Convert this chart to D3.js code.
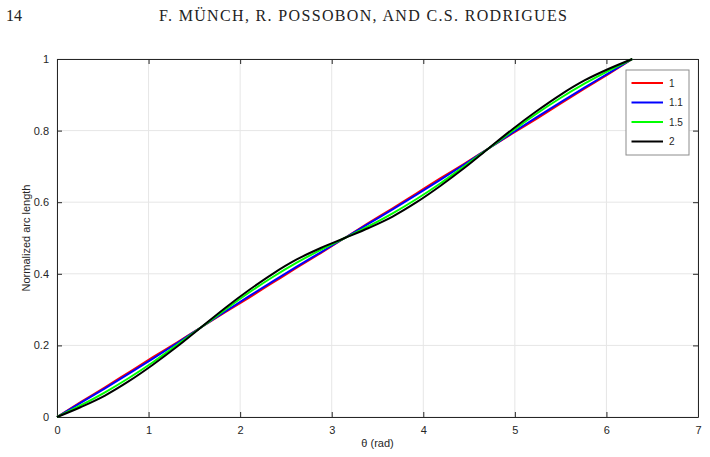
<!DOCTYPE html>
<html>
<head>
<meta charset="utf-8">
<script src="https://cdn.jsdelivr.net/npm/d3@7/dist/d3.min.js"></script>
<style>
  body { margin: 0; background: #fff; }
  svg { display: block; }
</style>
</head>
<body>
<div id="chart"></div>
<script>
// theta sample points (rad)
const theta = [0, 0.262, 0.524, 0.785, 1.047, 1.309, 1.571, 1.833, 2.094, 2.356, 2.618, 2.880,
    3.142, 3.403, 3.665, 3.927, 4.189, 4.451, 4.712, 4.974, 5.236, 5.498, 5.760, 6.021, 6.283];

// normalized arc length per ratio
const arc1 = [0, .042, .083, .125, .167, .208, .250, .292, .333, .375, .417, .458,
    .500, .542, .583, .625, .667, .708, .750, .792, .833, .875, .917, .958, 1];
const arc11 = [0, .040, .080, .121, .163, .206, .250, .294, .337, .379, .420, .460,
    .500, .540, .580, .621, .663, .706, .750, .794, .837, .879, .920, .960, 1];
const arc15 = [0, .033, .069, .109, .153, .201, .250, .299, .347, .391, .431, .467,
    .500, .533, .569, .609, .653, .701, .750, .799, .847, .891, .931, .967, 1];
const arc2 = [0, .028, .060, .100, .146, .196, .250, .304, .354, .400, .440, .472,
    .500, .528, .560, .600, .646, .696, .750, .804, .854, .900, .940, .972, 1];

const seriesNames = ["1", "1.1", "1.5", "2"];
const seriesColors = ["#ff0000", "#0000ff", "#00ff00", "#000000"];
const seriesValues = [arc1, arc11, arc15, arc2];

const xTicks = [0, 1, 2, 3, 4, 5, 6, 7];
const yTicks = [0, 0.2, 0.4, 0.6, 0.8, 1];

const W = 710, H = 457;
const margin = { top: 59, right: 12, bottom: 40, left: 57 };
const width = W - margin.left - margin.right;
const height = H - margin.top - margin.bottom;

const svg = d3.select("#chart").append("svg")
    .attr("width", W)
    .attr("height", H);

// page header
const serif = "'Liberation Serif', 'DejaVu Serif', serif";
svg.append("text")
    .attr("x", 6)
    .attr("y", 21)
    .style("font-family", serif)
    .style("font-size", "16px")
    .style("fill", "#222")
    .text("14");

svg.append("text")
    .attr("x", 159)
    .attr("y", 21)
    .attr("textLength", 408)
    .attr("lengthAdjust", "spacing")
    .style("font-family", serif)
    .style("font-size", "16px")
    .style("fill", "#222")
    .text("F. MÜNCH, R. POSSOBON, AND C.S. RODRIGUES");

const g = svg.append("g")
    .attr("transform", `translate(${margin.left}, ${margin.top})`);

const xScale = d3.scaleLinear().domain([0, 7]).range([0, width]);
const yScale = d3.scaleLinear().domain([0, 1]).range([height, 0]);

// grid
g.selectAll(".vgrid")
    .data(xTicks)
    .enter()
    .append("line")
    .attr("x1", d => xScale(d))
    .attr("x2", d => xScale(d))
    .attr("y1", 0)
    .attr("y2", height)
    .style("stroke", "#e6e6e6")
    .style("stroke-width", 1);

g.selectAll(".hgrid")
    .data(yTicks)
    .enter()
    .append("line")
    .attr("x1", 0)
    .attr("x2", width)
    .attr("y1", d => yScale(d))
    .attr("y2", d => yScale(d))
    .style("stroke", "#e6e6e6")
    .style("stroke-width", 1);

// axes (ticks pointing inward, box on all sides)
const axisFont = "'Liberation Sans', Arial, sans-serif";
const fmt = d3.format("~g");

const xAxis = g.append("g")
    .attr("transform", `translate(0, ${height})`)
    .call(d3.axisBottom(xScale).tickValues(xTicks).tickSizeInner(-5).tickSizeOuter(0).tickPadding(9)
        .tickFormat(fmt));
const xTop = g.append("g")
    .call(d3.axisTop(xScale).tickValues(xTicks).tickSizeInner(-5).tickSizeOuter(0).tickFormat(""));
const yAxis = g.append("g")
    .call(d3.axisLeft(yScale).tickValues(yTicks).tickSizeInner(-5).tickSizeOuter(0).tickPadding(8)
        .tickFormat(fmt));
const yRight = g.append("g")
    .attr("transform", `translate(${width}, 0)`)
    .call(d3.axisRight(yScale).tickValues(yTicks).tickSizeInner(-5).tickSizeOuter(0).tickFormat(""));

[xAxis, xTop, yAxis, yRight].forEach(a => {
    a.select(".domain").style("stroke", "#262626");
    a.selectAll(".tick line").style("stroke", "#262626");
    a.selectAll("text")
        .style("font-family", axisFont)
        .style("font-size", "11px")
        .style("fill", "#262626");
});

// curves
const line = d3.line()
    .x(d => xScale(d[0]))
    .y(d => yScale(d[1]))
    .curve(d3.curveMonotoneX);

seriesValues.forEach((vals, i) => {
    g.append("path")
        .datum(theta.map((t, j) => [t, vals[j]]))
        .attr("d", line)
        .style("fill", "none")
        .style("stroke", seriesColors[i])
        .style("stroke-width", 2);
});

// axis titles
svg.append("text")
    .attr("x", margin.left + width / 2)
    .attr("y", 447)
    .attr("text-anchor", "middle")
    .style("font-family", axisFont)
    .style("font-size", "11px")
    .style("fill", "#262626")
    .text("θ (rad)");

svg.append("text")
    .attr("transform", "rotate(-90)")
    .attr("x", -(margin.top + height / 2))
    .attr("y", 30)
    .attr("text-anchor", "middle")
    .style("font-family", axisFont)
    .style("font-size", "11px")
    .style("fill", "#262626")
    .text("Normalized arc length");

// legend
const legend = svg.append("g")
    .attr("transform", "translate(626, 70)");

legend.append("rect")
    .attr("width", 63)
    .attr("height", 85)
    .style("fill", "#fff")
    .style("stroke", "#8c8c8c")
    .style("stroke-width", 1);

seriesNames.forEach((name, i) => {
    const y = 13 + i * 19.5;
    legend.append("line")
        .attr("x1", 5.5)
        .attr("x2", 37)
        .attr("y1", y)
        .attr("y2", y)
        .style("stroke", seriesColors[i])
        .style("stroke-width", 2);
    legend.append("text")
        .attr("x", 43)
        .attr("y", y)
        .attr("dy", "0.35em")
        .style("font-family", axisFont)
        .style("font-size", "10px")
        .style("fill", "#262626")
        .text(name);
});
</script>
</body>
</html>
